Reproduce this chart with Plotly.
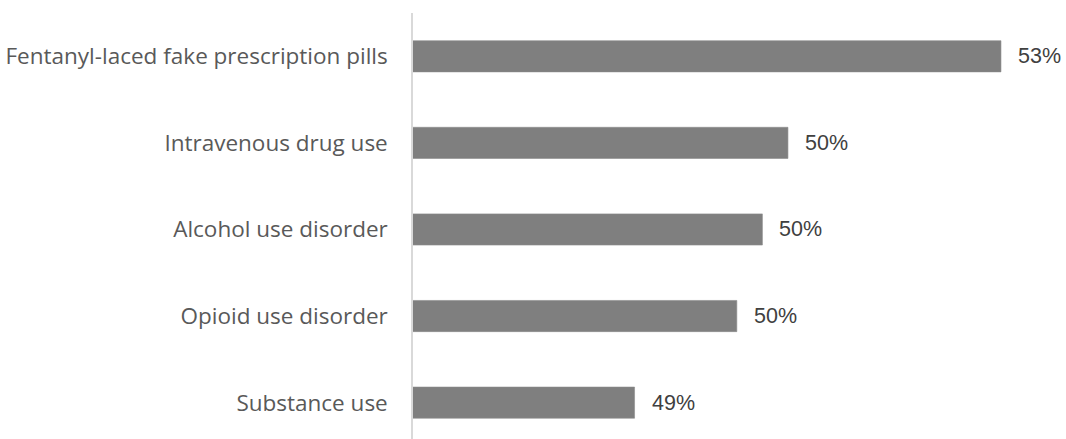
import plotly.graph_objects as go

categories = [
    "Fentanyl-laced fake prescription pills",
    "Intravenous drug use",
    "Alcohol use disorder",
    "Opioid use disorder",
    "Substance use",
]
values = [52.9, 50.4, 50.1, 49.8, 48.6]

fig = go.Figure()
fig.add_trace(go.Bar(
    x=values,
    y=categories,
    orientation="h",
    width=0.36,
    marker=dict(color="#7f7f7f", line=dict(color="#8c8c8c", width=0.6)),
    hoverinfo="skip",
))

for cat, val in zip(categories, values):
    fig.add_annotation(
        x=val, y=cat, text=f"{val:.0f}%",
        xanchor="left", yanchor="middle", xshift=15, showarrow=False,
        font=dict(family="Liberation Sans, Arial, sans-serif", size=21.5, color="#404040"),
    )

fig.update_layout(
    width=1066, height=439,
    margin=dict(l=413, r=0, t=13, b=0),
    paper_bgcolor="white", plot_bgcolor="white",
    showlegend=False,
    xaxis=dict(range=[46, 53.663], visible=False, showgrid=False, zeroline=False),
    yaxis=dict(
        categoryorder="array", categoryarray=categories[::-1],
        range=[-0.42, 4.5],
        showline=True, linecolor="#d9d9d9", linewidth=1.5,
        showgrid=False, zeroline=False, ticks="",
        ticklabelstandoff=19,
        tickfont=dict(family="Open Sans, sans-serif", size=22.5, color="#595959"),
    ),
)

fig.write_html("out.html")
